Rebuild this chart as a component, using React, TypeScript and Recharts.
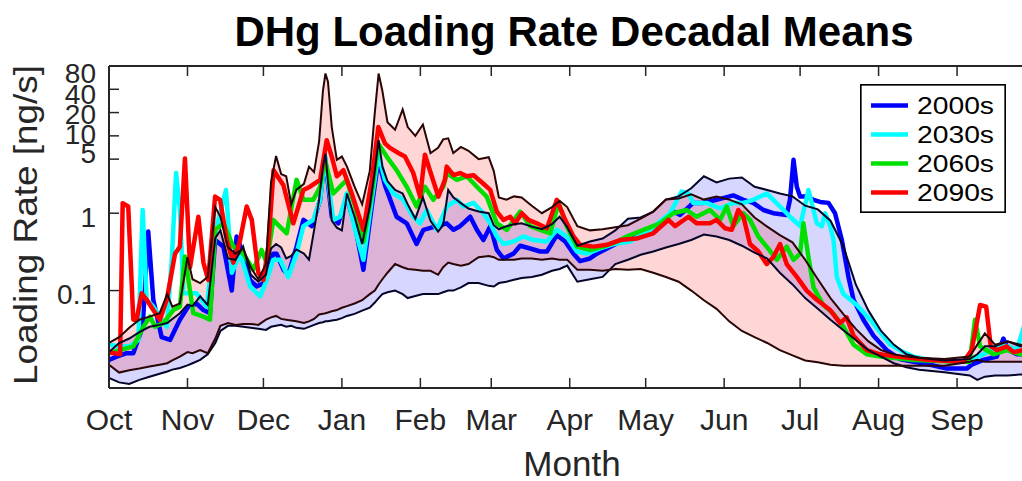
import { Area, ComposedChart, Legend, Line, XAxis, YAxis } from 'recharts'

const FONT = '"Liberation Sans", Arial, Helvetica, sans-serif'
const AXIS = '#262626'

const monthDays = [0, 31, 61, 92, 123, 151, 182, 212, 243, 273, 304, 335]
const monthNames = ['Oct', 'Nov', 'Dec', 'Jan', 'Feb', 'Mar', 'Apr', 'May', 'Jun', 'Jul', 'Aug', 'Sep']
const rateTicks = [0.1, 1, 5, 10, 20, 40, 80]

// decadal mean loading rate: [day of water year, ng/s]
const mean2000s: [number, number][] = [
  [0, 0.0127], [3, 0.014], [7, 0.0155], [9.6, 0.0155], [13.3, 0.034], [15.5, 0.58], [17.5, 0.076],
  [20.8, 0.025], [24.1, 0.023], [28, 0.042], [31.3, 0.062], [34.6, 0.068], [37.3, 0.056], [39.9, 0.051],
  [41.9, 0.45], [45.2, 0.37], [48.5, 0.1], [50.4, 0.5], [53, 0.3], [55.7, 0.137], [58.3, 0.113],
  [61, 0.124], [64.9, 0.3], [66.2, 0.3], [68.9, 0.186], [70.8, 0.16], [74.1, 0.37], [76.8, 0.82],
  [80.1, 0.68], [83.4, 1.49], [85.3, 5.4], [88, 0.9], [90.6, 0.74], [93.9, 1.64], [97.2, 0.68],
  [100.5, 0.186], [103.8, 1.22], [106.4, 4.9], [109, 2.3], [113.6, 0.9], [117.6, 0.74], [121.5, 0.4],
  [124.2, 0.61], [129.5, 0.68], [133.4, 0.74], [136.1, 0.61], [138.7, 0.68], [142.7, 0.9], [145.3, 0.61],
  [147.9, 0.45], [150.6, 0.68], [153.2, 0.335], [155.8, 0.26], [159.8, 0.3], [162.4, 0.38], [166.4, 0.35],
  [170.3, 0.32], [173, 0.32], [176.9, 0.52], [180.2, 0.43], [183.5, 0.3], [186.1, 0.24], [190, 0.26],
  [192.7, 0.3], [196.7, 0.35], [202, 0.43], [211.1, 0.55], [217.7, 0.74], [222.9, 1.05], [225.6, 0.95],
  [230.8, 1.36], [234.8, 1.36], [240, 1.49], [246.6, 1.7], [250.6, 1.49], [254.5, 1.36], [258.5, 1.1],
  [262.4, 1.0], [267.7, 0.95], [269, 1.49], [270.4, 4.9], [271.7, 2.2], [273, 1.64], [275.6, 1.64],
  [278.3, 1.49], [280.9, 1.4], [284.2, 1.36], [286.8, 1.0], [289.5, 0.45], [292.1, 0.15], [294.1, 0.076],
  [298, 0.042], [302, 0.026], [307.2, 0.017], [312.5, 0.013], [317.8, 0.012], [324.4, 0.011], [331, 0.0098],
  [338.8, 0.0098], [340.8, 0.011], [345.4, 0.0127], [350.7, 0.014], [353.3, 0.024], [355.3, 0.017],
  [358.6, 0.015], [365, 0.015],
]

const mean2030s: [number, number][] = [
  [0, 0.02], [4.3, 0.019], [8.3, 0.019], [11.6, 0.023], [13.3, 1.1], [14.9, 0.076], [17.5, 0.062],
  [22.8, 0.034], [24.8, 0.25], [26.5, 3.3], [28, 1.1], [29.4, 0.092], [34.6, 0.092], [38.6, 0.062],
  [41.9, 0.55], [46.2, 2.0], [48.5, 0.17], [51.8, 0.3], [55.7, 0.113], [59.7, 0.084], [62.3, 0.137],
  [64.9, 0.25], [67.6, 0.25], [70.8, 0.15], [74.1, 0.3], [76.8, 0.68], [80.7, 0.82], [83.4, 1.49],
  [85.3, 5.4], [88.6, 0.82], [91.3, 0.9], [93.9, 1.8], [97.2, 0.61], [100.5, 0.25], [103.8, 1.49],
  [106.4, 5.9], [109, 2.7], [112.3, 1.8], [116.3, 1.49], [120.2, 0.9], [122.9, 0.74], [125.5, 1.1],
  [129.5, 0.61], [133.4, 1.22], [137.4, 1.49], [140, 1.22], [144, 1.36], [147.9, 1.0], [150.6, 0.74],
  [153.2, 0.5], [155.8, 0.4], [159.8, 0.43], [163.7, 0.5], [167.7, 0.45], [173, 0.43], [176.9, 0.61],
  [180.8, 0.5], [184.8, 0.32], [188.7, 0.3], [194, 0.35], [199.3, 0.4], [205.8, 0.43], [213.7, 0.61],
  [221.6, 1.0], [226.2, 1.9], [228.9, 1.8], [230.8, 1.36], [236.1, 1.36], [241.4, 1.15], [246.6, 1.36],
  [250.6, 1.36], [254.5, 1.49], [259.8, 1.8], [265.1, 1.22], [269, 0.9], [273, 0.68], [276.3, 2.0],
  [279.6, 0.74], [281.6, 0.68], [282.9, 1.0], [284.9, 0.68], [286.2, 0.45], [287.5, 0.15], [290.1, 0.09],
  [295.4, 0.065], [300.7, 0.042], [304.6, 0.029], [308.6, 0.02], [313.8, 0.016], [317.8, 0.014],
  [324.4, 0.0127], [336.2, 0.012], [340, 0.0127], [345.4, 0.015], [352, 0.02], [355.3, 0.019],
  [358.6, 0.017], [361.5, 0.035], [365, 0.04],
]

const mean2060s: [number, number][] = [
  [0, 0.0155], [4.3, 0.017], [9.6, 0.019], [13.6, 0.034], [16.2, 0.046], [18.2, 0.034], [21.5, 0.038],
  [25.4, 0.056], [28, 0.062], [30, 0.275], [33.3, 0.051], [37.3, 0.046], [39.9, 0.042], [41.9, 0.61],
  [45.2, 0.74], [49.1, 0.37], [53, 0.3], [57, 0.186], [60.3, 0.335], [62.3, 0.226], [64.9, 0.82],
  [66.2, 0.74], [70.2, 0.55], [74.1, 2.7], [76.8, 1.49], [80.7, 1.49], [83.4, 2.2], [85.3, 4.9],
  [88.6, 1.8], [93.9, 2.7], [97.2, 1.22], [100.5, 0.43], [103.8, 1.8], [106.4, 7.9], [109.7, 5.4],
  [113.6, 3.6], [117.6, 2.2], [121.5, 1.22], [124.8, 2.2], [128.1, 1.49], [132.1, 2.2], [133.4, 3.3],
  [137.4, 2.7], [141.3, 3.0], [145.3, 2.2], [149.2, 1.64], [153.2, 0.74], [157.1, 0.61], [162.4, 1.05],
  [166.4, 0.68], [170.3, 0.61], [174.3, 0.55], [177.6, 1.36], [180.8, 0.68], [184.8, 0.37], [190.1, 0.335],
  [195.3, 0.37], [202, 0.45], [204.5, 0.5], [211.1, 0.61], [217.7, 0.74], [222.9, 1.0], [228.2, 1.1],
  [232.1, 0.9], [237.4, 1.1], [241.4, 0.82], [244, 1.22], [246.6, 0.68], [250.6, 1.0], [253.2, 0.82],
  [256.5, 0.5], [259.8, 0.37], [263.8, 0.25], [267.7, 0.37], [270.4, 0.25], [273, 0.3], [274.3, 0.74],
  [276.3, 0.27], [278.3, 0.11], [282.2, 0.065], [286.2, 0.05], [290.1, 0.034], [294.1, 0.02],
  [299.3, 0.015], [304.6, 0.014], [317.8, 0.0127], [336.2, 0.012], [340, 0.012], [342.1, 0.042],
  [344.1, 0.019], [349.4, 0.015], [354.6, 0.017], [360, 0.015], [365, 0.015],
]

const mean2090s: [number, number][] = [
  [0, 0.016], [4.4, 0.015], [5.4, 1.35], [7.6, 1.22], [9.6, 0.042], [10.9, 0.042], [12.9, 0.092],
  [14.9, 0.076], [17.5, 0.056], [20.1, 0.042], [22.8, 0.076], [26.1, 0.3], [28, 0.37], [30, 5.1],
  [32, 0.2], [35.3, 0.9], [37.3, 0.23], [39.2, 0.137], [41.9, 1.64], [43.9, 1.49], [46.5, 0.45],
  [49.1, 0.23], [51.8, 0.45], [54.4, 1.22], [56.4, 0.82], [59, 0.17], [61, 0.137], [62.9, 0.37],
  [65, 3.6], [68.9, 2.3], [72.8, 0.74], [76.8, 2.0], [79.4, 2.2], [83.4, 2.7], [86, 8.8], [88, 5.4],
  [90, 3.0], [92.6, 3.6], [95.9, 1.8], [100.5, 0.61], [103.8, 2.7], [106.4, 13], [109, 8.0], [111, 7.0],
  [114.3, 6.0], [116.9, 5.4], [120.2, 3.3], [122.9, 1.64], [124.8, 5.7], [127.5, 3.0], [130.1, 1.64],
  [132.7, 2.7], [133.4, 4.0], [136.1, 3.1], [138.7, 3.3], [141.3, 3.0], [144, 3.1], [147.9, 2.4],
  [150.6, 2.0], [153.2, 1.05], [155.8, 0.82], [158.5, 0.9], [160.4, 0.74], [163.1, 1.0], [165.7, 0.82],
  [169, 0.74], [173, 0.64], [176.9, 1.49], [180.2, 0.82], [183.5, 0.5], [186.1, 0.39], [191.4, 0.37],
  [196.7, 0.39], [201.9, 0.45], [208.4, 0.47], [215, 0.55], [221, 0.82], [223.6, 0.68], [228.9, 0.9],
  [232.1, 0.74], [237.4, 0.74], [240, 0.82], [243.3, 0.64], [246, 0.61], [248.6, 1.1], [250.6, 0.9],
  [253.2, 0.4], [256.5, 0.32], [259.8, 0.22], [262.4, 0.27], [265.1, 0.4], [267.7, 0.22], [271.7, 0.15],
  [275.6, 0.1], [279.6, 0.076], [284.9, 0.056], [288.8, 0.038], [291.4, 0.045], [294.1, 0.026],
  [299.3, 0.017], [304.6, 0.015], [311.2, 0.014], [324.4, 0.0127], [337.5, 0.012], [340.8, 0.017],
  [344.1, 0.065], [346.5, 0.062], [348.3, 0.019], [350.7, 0.017], [354.6, 0.019], [357.3, 0.016],
  [361, 0.017], [365, 0.017],
]

// min / max envelopes of the 2000s and 2090s members
const bandDays = [
  0, 4, 8, 12, 16, 20, 23, 25, 28, 31,
  33, 36, 39, 42, 44, 47, 50, 53, 56, 59,
  62, 64, 66, 68, 70, 72, 74, 77, 79, 81,
  83, 84.5, 85.5, 86.5, 88, 90, 92, 94, 97, 100,
  103, 105, 106.5, 108, 110, 113, 116, 118, 121, 124,
  127, 130, 132, 134, 136, 139, 142, 146, 150, 152,
  154, 157, 160, 163, 167, 171, 175, 178, 181, 185,
  190, 195, 200, 205, 210, 215, 220, 225, 230, 235,
  240, 245, 250, 255, 260, 265, 270, 275, 280, 285,
  290, 295, 300, 305, 310, 315, 320, 330, 340, 343,
  346, 350, 355, 360, 365,
]

const low2000s = [
  0.0074, 0.0065, 0.0062, 0.007, 0.0077, 0.0084, 0.009, 0.0095, 0.01, 0.0108,
  0.0115, 0.0127, 0.015, 0.021, 0.03, 0.035, 0.035, 0.034, 0.033, 0.032,
  0.031, 0.034, 0.035, 0.036, 0.034, 0.035, 0.033, 0.032, 0.034, 0.036,
  0.038, 0.039, 0.04, 0.04, 0.041, 0.042, 0.044, 0.047, 0.05, 0.055,
  0.06, 0.07, 0.08, 0.09, 0.095, 0.1, 0.09, 0.08, 0.085, 0.09,
  0.09, 0.09, 0.095, 0.1, 0.1, 0.11, 0.125, 0.125, 0.115, 0.113,
  0.125, 0.13, 0.138, 0.145, 0.15, 0.16, 0.18, 0.19, 0.21, 0.13,
  0.14, 0.15, 0.22, 0.25, 0.29, 0.32, 0.36, 0.4, 0.45, 0.53,
  0.5, 0.45, 0.38, 0.31, 0.26, 0.17, 0.12, 0.08, 0.058, 0.042,
  0.031, 0.023, 0.017, 0.014, 0.0115, 0.0102, 0.0095, 0.0088, 0.008, 0.007,
  0.0077, 0.008, 0.008, 0.0082, 0.0082,
]

const high2000s = [
  0.016, 0.021, 0.024, 0.029, 0.034, 0.036, 0.038, 0.043, 0.051, 0.066,
  0.063, 0.084, 0.065, 0.48, 0.6, 0.26, 0.25, 0.37, 0.16, 0.13,
  0.16, 0.35, 0.4, 0.36, 0.26, 0.28, 0.34, 0.3, 0.25, 0.6,
  1.5, 4.0, 5.9, 2.5, 0.8, 0.65, 0.6, 1.8, 0.9, 0.4,
  1.2, 3.5, 8.8, 4.0, 2.6, 2.0, 1.8, 1.3, 0.85, 1.6,
  0.8, 0.58, 0.7, 2.0, 1.6, 1.35, 1.15, 1.05, 1.0, 0.7,
  0.62, 0.68, 0.72, 0.74, 0.67, 0.62, 0.72, 0.9, 0.66, 0.38,
  0.43, 0.47, 0.6, 0.85, 0.88, 1.05, 1.5, 1.65, 2.1, 3.0,
  2.5, 2.8, 2.9, 2.2, 2.0, 1.8, 1.65, 1.25, 1.12, 0.8,
  0.38, 0.12, 0.055, 0.03, 0.02, 0.015, 0.0135, 0.0125, 0.013, 0.015,
  0.019, 0.019, 0.022, 0.019, 0.019,
]

const low2090s = [
  0.011, 0.0087, 0.0093, 0.0098, 0.0104, 0.011, 0.0115, 0.0125, 0.014, 0.016,
  0.0155, 0.017, 0.0155, 0.024, 0.035, 0.038, 0.036, 0.037, 0.037, 0.036,
  0.042, 0.045, 0.047, 0.043, 0.042, 0.041, 0.04, 0.038, 0.04, 0.043,
  0.049, 0.05, 0.051, 0.052, 0.054, 0.056, 0.06, 0.063, 0.068, 0.075,
  0.09, 0.1, 0.12, 0.14, 0.17, 0.22, 0.2, 0.19, 0.186, 0.18,
  0.18, 0.16, 0.2, 0.23, 0.22, 0.21, 0.22, 0.27, 0.28, 0.27,
  0.25, 0.25, 0.25, 0.26, 0.26, 0.25, 0.26, 0.25, 0.25, 0.186,
  0.186, 0.18, 0.19, 0.186, 0.19, 0.17, 0.15, 0.13, 0.1, 0.075,
  0.058, 0.04, 0.03, 0.025, 0.021, 0.017, 0.0145, 0.0125, 0.0118, 0.011,
  0.0107, 0.0107, 0.0107, 0.0107, 0.0107, 0.0107, 0.0107, 0.0107, 0.012, 0.0127,
  0.012, 0.012, 0.012, 0.012, 0.012,
]

const high2090s = [
  0.021, 0.025, 0.033, 0.042, 0.046, 0.051, 0.09, 0.062, 0.068, 0.27,
  0.14, 0.125, 0.15, 1.2, 0.9, 0.36, 0.3, 0.35, 0.2, 0.14,
  0.22, 2.5, 5.5, 3.2, 3.0, 1.3, 2.0, 2.4, 4.0, 3.4,
  8.5, 38, 64, 50, 13, 4.9, 5.4, 4.0, 2.2, 1.3,
  3.5, 20, 64, 38, 15, 12, 22, 13, 10, 14,
  6.0, 7.0, 9.0, 9.3, 6.0, 7.2, 6.4, 5.0, 5.3, 3.5,
  1.6, 1.5, 1.65, 1.6, 1.25, 1.0, 1.2, 1.45, 1.2, 0.68,
  0.6, 0.62, 0.66, 0.7, 0.85, 1.05, 1.5, 1.55, 1.75, 1.5,
  1.64, 1.5, 1.3, 0.88, 0.67, 0.52, 0.42, 0.25, 0.14, 0.08,
  0.05, 0.032, 0.022, 0.017, 0.015, 0.014, 0.0135, 0.013, 0.014, 0.02,
  0.028, 0.02, 0.022, 0.02, 0.02,
]

const toRows = (pairs: [number, number][]) => pairs.map(([day, rate]) => ({ day, rate }))
const toBand = (low: number[], high: number[]) =>
  bandDays.map((day, i) => ({ day, low: low[i], high: high[i], range: [low[i], high[i]] }))

const series = [
  { name: '2000s', color: '#0000ff', rows: toRows(mean2000s) },
  { name: '2030s', color: '#00ffff', rows: toRows(mean2030s) },
  { name: '2060s', color: '#00e000', rows: toRows(mean2060s) },
  { name: '2090s', color: '#ff0000', rows: toRows(mean2090s) },
]

const bands = [
  { id: 'b2000', fill: '#0000ff', edge: '#05052a', rows: toBand(low2000s, high2000s) },
  { id: 'b2090', fill: '#ff0000', edge: '#2a0505', rows: toBand(low2090s, high2090s) },
]

// MATLAB-style label placement next to the crowded upper ticks
const rateLabelShift: Record<number, number> = { 80: 7, 40: 5, 20: 1, 10: -2, 5: -6, 1: 4, 0.1: 3 }

function MonthTick({ x, y, payload }: any) {
  const label = monthNames[monthDays.indexOf(payload.value)]
  return (
    <g>
      <line x1={x} y1={y} x2={x} y2={y - 10} stroke={AXIS} strokeWidth={1.5} />
      <text x={x} y={y + 42} textAnchor="middle" fontSize={30} fill={AXIS} fontFamily={FONT}>
        {label}
      </text>
    </g>
  )
}

function TopTick({ x, y }: any) {
  return <line x1={x} y1={y} x2={x} y2={y + 10} stroke={AXIS} strokeWidth={1.5} />
}

function RateTick({ x, y, payload }: any) {
  const v = payload.value
  return (
    <g>
      <line x1={x} y1={y} x2={x + 10} y2={y} stroke={AXIS} strokeWidth={1.5} />
      <text
        x={x - 13}
        y={y + (rateLabelShift[v] ?? 0)}
        dy="0.36em"
        textAnchor="end"
        fontSize={28}
        fill={AXIS}
        fontFamily={FONT}
      >
        {v}
      </text>
    </g>
  )
}

function LegendBox() {
  return (
    <svg width={146} height={129} style={{ display: 'block' }}>
      <rect x={0.75} y={0.75} width={144.5} height={127.5} fill="#fff" stroke="#000" strokeWidth={1.8} />
      {series.map((s, i) => {
        const cy = 21.5 + i * 29
        return (
          <g key={s.name}>
            <line x1={11} x2={48} y1={cy} y2={cy} stroke={s.color} strokeWidth={4.5} />
            <text
              x={57}
              y={cy}
              dy="0.36em"
              fontSize={24}
              textLength={77}
              lengthAdjust="spacingAndGlyphs"
              fill="#000"
              fontFamily={FONT}
            >
              {s.name}
            </text>
          </g>
        )
      })}
    </svg>
  )
}

export default function App() {
  return (
    <div
      style={{
        position: 'absolute',
        left: 0,
        top: 0,
        width: 1022,
        height: 481,
        overflow: 'hidden',
        background: '#fff',
        fontFamily: FONT,
      }}
    >
      <ComposedChart width={1040} height={481} margin={{ top: 36, right: 7, bottom: 53, left: 49 }}>
        <XAxis
          dataKey="day"
          type="number"
          domain={[0, 365]}
          allowDataOverflow
          ticks={monthDays}
          interval={0}
          height={40}
          tickSize={0}
          tickMargin={0}
          tickLine={false}
          axisLine={{ stroke: AXIS, strokeWidth: 2 }}
          tick={<MonthTick />}
          label={{
            content: () => (
              <text x={572} y={476} textAnchor="middle" fontSize={35} fill={AXIS} fontFamily={FONT}>
                Month
              </text>
            ),
          }}
        />
        <XAxis
          xAxisId="top"
          orientation="top"
          dataKey="day"
          type="number"
          domain={[0, 365]}
          allowDataOverflow
          ticks={monthDays}
          interval={0}
          height={30}
          tickSize={0}
          tickMargin={0}
          tickLine={false}
          axisLine={{ stroke: AXIS, strokeWidth: 2 }}
          tick={<TopTick />}
        />
        <YAxis
          type="number"
          scale="log"
          domain={[0.0055, 80]}
          allowDataOverflow
          ticks={rateTicks}
          interval={0}
          width={60}
          tickSize={0}
          tickMargin={0}
          tickLine={false}
          axisLine={{ stroke: AXIS, strokeWidth: 2 }}
          tick={<RateTick />}
          label={{
            content: () => (
              <text
                x={37}
                y={225}
                transform="rotate(-90 37 225)"
                textAnchor="middle"
                fontSize={33}
                textLength={320}
                lengthAdjust="spacingAndGlyphs"
                fill={AXIS}
                fontFamily={FONT}
              >
                Loading Rate [ng/s]
              </text>
            ),
          }}
        />

        {bands.map((b) => (
          <Area
            key={b.id}
            data={b.rows}
            dataKey="range"
            type="linear"
            stroke="none"
            fill={b.fill}
            fillOpacity={0.16}
            legendType="none"
            isAnimationActive={false}
          />
        ))}

        {series.map((s) => (
          <Line
            key={s.name}
            data={s.rows}
            dataKey="rate"
            name={s.name}
            type="linear"
            stroke={s.color}
            strokeWidth={4.5}
            strokeLinejoin="round"
            dot={false}
            activeDot={false}
            isAnimationActive={false}
          />
        ))}

        {bands.flatMap((b) =>
          ['low', 'high'].map((k) => (
            <Line
              key={`${b.id}-${k}`}
              data={b.rows}
              dataKey={k}
              type="linear"
              stroke={b.edge}
              strokeWidth={2}
              dot={false}
              activeDot={false}
              legendType="none"
              isAnimationActive={false}
            />
          )),
        )}

        <Legend
          layout="horizontal"
          align="center"
          verticalAlign="middle"
          wrapperStyle={{ left: 860, top: 84, width: 146, height: 129 }}
          content={() => <LegendBox />}
        />
      </ComposedChart>

      <svg width={1022} height={60} style={{ position: 'absolute', left: 0, top: 0 }}>
        <text x={574} y={46} textAnchor="middle" fontSize={42} fontWeight="bold" fill="#000" fontFamily={FONT}>
          DHg Loading Rate Decadal Means
        </text>
      </svg>
    </div>
  )
}
